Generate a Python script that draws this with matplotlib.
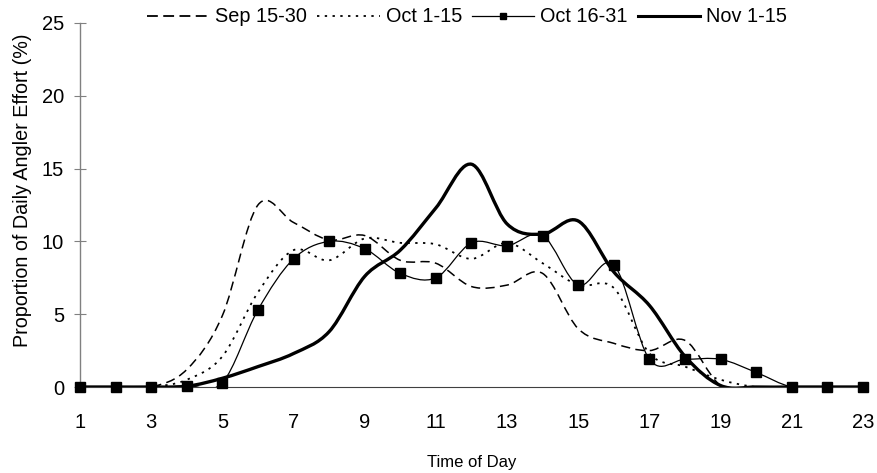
import matplotlib.pyplot as plt
import numpy as np
from matplotlib.path import Path
from matplotlib.patches import PathPatch
from matplotlib.lines import Line2D

plt.rcParams['font.family'] = ['Liberation Sans', 'DejaVu Sans']

# hour of day
hours = list(range(1, 24))

# proportion of daily angler effort (%) per period
sep_15_30 = [0, 0, 0, 1.2, 4.9, 12.5, 11.3, 10.1, 10.4, 8.7, 8.5, 6.9, 7.0, 7.8, 4.0, 3.0, 2.5, 3.2, 0.1, 0, 0, 0, 0]
oct_1_15 = [0, 0, 0, 0.5, 2.1, 6.5, 9.4, 8.7, 10.2, 9.9, 9.8, 8.8, 9.9, 8.5, 7.0, 6.8, 2.3, 1.4, 0.5, 0, 0, 0, 0]
oct_16_31 = [0, 0, 0, 0.1, 0.3, 5.3, 8.8, 10.0, 9.5, 7.8, 7.5, 9.9, 9.7, 10.4, 7.0, 8.4, 1.9, 1.9, 1.9, 1.0, 0, 0, 0]
nov_1_15 = [0, 0, 0, 0.05, 0.6, 1.4, 2.3, 3.8, 7.6, 9.4, 12.3, 15.3, 11.2, 10.5, 11.4, 7.9, 5.6, 2.1, 0.1, 0, 0, 0, 0]

labels = ['Sep 15-30', 'Oct 1-15', 'Oct 16-31', 'Nov 1-15']


def smooth_path(x, y):
    # Excel style smoothed line: cubic bezier through every point
    x = np.asarray(x, float)
    y = np.asarray(y, float)
    px = np.concatenate([[x[0]], x, [x[-1]]])
    py = np.concatenate([[y[0]], y, [y[-1]]])
    verts = [(x[0], y[0])]
    codes = [Path.MOVETO]
    for i in range(1, len(x)):
        c1 = (px[i] + (px[i + 1] - px[i - 1]) / 6, py[i] + (py[i + 1] - py[i - 1]) / 6)
        c2 = (px[i + 1] - (px[i + 2] - px[i]) / 6, py[i + 1] - (py[i + 2] - py[i]) / 6)
        verts += [c1, c2, (px[i + 1], py[i + 1])]
        codes += [Path.CURVE4] * 3
    return Path(verts, codes)


fig = plt.figure(figsize=(8.78, 4.73), dpi=100)
ax = fig.add_axes([0.0911, 0.1818, 0.8918, 0.7696])

dash = (0, (6, 3.5))
dot = (0, (1.3, 3.0))
styles = [
    dict(lw=1.1, ls=dash),
    dict(lw=1.3, ls=dot),
    dict(lw=0.9, ls='-'),
    dict(lw=2.4, ls='-'),
]
series = [sep_15_30, oct_1_15, oct_16_31, nov_1_15]

for vals, st in zip(series, styles):
    patch = PathPatch(smooth_path(hours, vals), facecolor='none', edgecolor='black',
                      linewidth=st['lw'], linestyle=st['ls'], capstyle='butt')
    ax.add_patch(patch)

ax.plot(hours, oct_16_31, ls='none', marker='s', ms=7, color='black', clip_on=False, zorder=5)

ax.set_xlim(1, 23)
ax.set_ylim(0, 25)
ax.set_xticks(range(1, 24, 2))
ax.set_yticks(range(0, 26, 5))
ax.tick_params(axis='x', length=0, labelsize=14.5, pad=19)
ax.tick_params(axis='y', direction='inout', length=9, width=0.8, color='#808080', labelsize=14.5, pad=7)

for s in ['top', 'right']:
    ax.spines[s].set_visible(False)
ax.spines['left'].set_color('#808080')
ax.spines['left'].set_linewidth(1.0)
ax.spines['bottom'].set_color('#404040')
ax.spines['bottom'].set_linewidth(0.8)

ax.set_xlabel('Time of Day', fontsize=12, labelpad=16)
ax.set_ylabel('Proportion of Daily Angler Effort (%)', fontsize=14.2)
ax.yaxis.set_label_coords(-0.061, 0.541)

handles = [
    Line2D([], [], color='black', lw=1.3, ls=(0, (6, 3))),
    Line2D([], [], color='black', lw=1.3, ls=dot),
    Line2D([], [], color='black', lw=0.9, marker='s', ms=5),
    Line2D([], [], color='black', lw=2.2),
]
fig.legend(handles, labels, loc='center', bbox_to_anchor=(467 / 878, 1 - 17 / 473), ncol=4,
           frameon=False, fontsize=14.3, handlelength=3.15, handletextpad=0.3,
           columnspacing=0.5, numpoints=1, borderpad=0)

fig.savefig('out.png', dpi=100)
